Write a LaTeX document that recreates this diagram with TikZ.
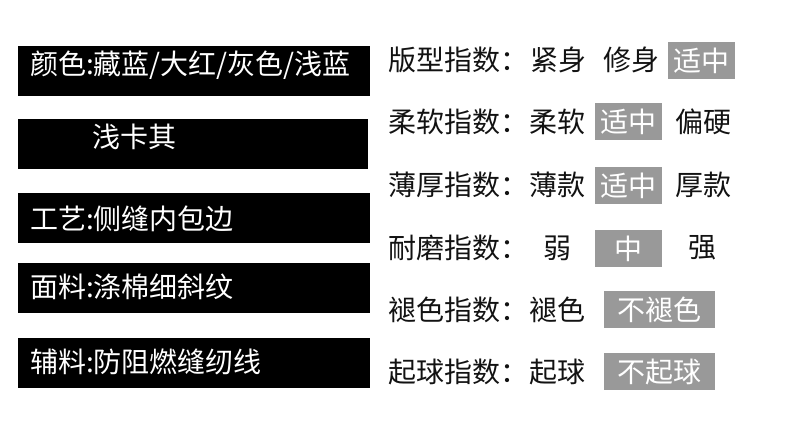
\documentclass[tikz,border=0pt]{standalone}
\usepackage{fontspec}
\newfontfamily\cjk{Noto Sans CJK SC}
\definecolor{pickgray}{HTML}{999999}

\begin{document}
\begin{tikzpicture}[x=1pt, y=-1pt,
		tagtext/.style={anchor=west, inner sep=0pt, text=white, font=\cjk\fontsize{28}{28}\selectfont},
		rowtext/.style={anchor=west, inner sep=0pt, text=black!93, font=\cjk\fontsize{28}{28}\selectfont},
		pickbox/.style={fill=pickgray, inner sep=0pt, minimum height=37pt, text=white, font=\cjk\fontsize{28}{28}\selectfont}]
			\useasboundingbox (0,0) rectangle (790,428);
			
			\fill[black] (18,46) rectangle (370,96);
			\fill[black] (18,119) rectangle (368,169);
			\fill[black] (18,193) rectangle (370,243);
			\fill[black] (18,263) rectangle (370,313);
			\fill[black] (18,338) rectangle (370,388);
			
			\node[tagtext] (colour) at (30, 65) {颜色:藏蓝/大红/灰色/浅蓝};
			\node[tagtext] (khaki) at (92, 137) {浅卡其};
			\node[tagtext] (craft) at (30, 219) {工艺:侧缝内包边};
			\node[tagtext] (fabric) at (30, 287) {面料:涤棉细斜纹};
			\node[tagtext] (trim) at (30, 362) {辅料:防阻燃缝纫线};
			
			\node[rowtext] (fitlabel) at (388, 60) {版型指数：};
			\node[rowtext] (fittight) at (530, 60) {紧身};
			\node[rowtext] (fitslim) at (603, 60) {修身};
			\node[pickbox, minimum width=67pt] (fitpick) at (701.5, 60.5) {适中};
			
			\node[rowtext] (softlabel) at (388, 122) {柔软指数：};
			\node[rowtext] (softsoft) at (529, 122) {柔软};
			\node[pickbox, minimum width=67pt] (softpick) at (628.5, 121.5) {适中};
			\node[rowtext] (softhard) at (675, 122) {偏硬};
			
			\node[rowtext] (thicklabel) at (388, 185) {薄厚指数：};
			\node[rowtext] (thickthin) at (529, 185) {薄款};
			\node[pickbox, minimum width=67pt] (thickpick) at (628.5, 185.5) {适中};
			\node[rowtext] (thickthick) at (675, 185) {厚款};
			
			\node[rowtext] (wearlabel) at (388, 248) {耐磨指数：};
			\node[rowtext] (wearweak) at (543, 248) {弱};
			\node[pickbox, minimum width=67pt] (wearpick) at (628.5, 248.5) {中};
			\node[rowtext] (wearstrong) at (688, 248) {强};
			
			\node[rowtext] (fadelabel) at (388, 310) {褪色指数：};
			\node[rowtext] (fadeyes) at (529, 310) {褪色};
			\node[pickbox, minimum width=111pt] (fadepick) at (659.5, 309.5) {不褪色};
			
			\node[rowtext] (pilllabel) at (388, 372) {起球指数：};
			\node[rowtext] (pillyes) at (529, 372) {起球};
			\node[pickbox, minimum width=111pt] (pillpick) at (659.5, 371.5) {不起球};
			
		\end{tikzpicture}
\end{document}
